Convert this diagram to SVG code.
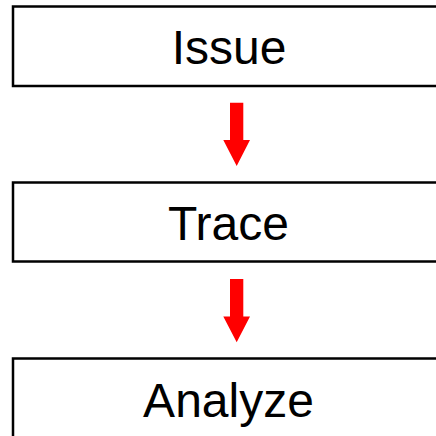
<svg xmlns="http://www.w3.org/2000/svg" width="436" height="436" viewBox="0 0 436 436">
<style>
.box{fill:#fff;stroke:#000;stroke-width:2.5}
.lbl{font-family:"Liberation Sans",Arial,sans-serif;font-size:48px;fill:#000;text-anchor:middle}
.arr{fill:#ff0000;stroke:none}
</style>
<rect width="436" height="436" fill="#fff"/>
<g id="issue"><rect class="box" x="13" y="6.5" width="431" height="79.5"/><text class="lbl" x="229" y="64">Issue</text></g>
<g id="trace"><rect class="box" x="13" y="182.5" width="431" height="79"/><text class="lbl" x="228.5" y="240">Trace</text></g>
<g id="analyze"><rect class="box" x="13" y="358.5" width="431" height="79"/><text class="lbl" x="228.5" y="416.5">Analyze</text></g>
<g id="connectors">
<path class="arr" d="M230,102.7 H243.3 V140 H250 L236.7,166 L223.3,140 H230 Z"/>
<path class="arr" d="M230,279 H243.3 V316.5 H250 L236.7,342.3 L223.3,316.5 H230 Z"/>
</g>
</svg>
